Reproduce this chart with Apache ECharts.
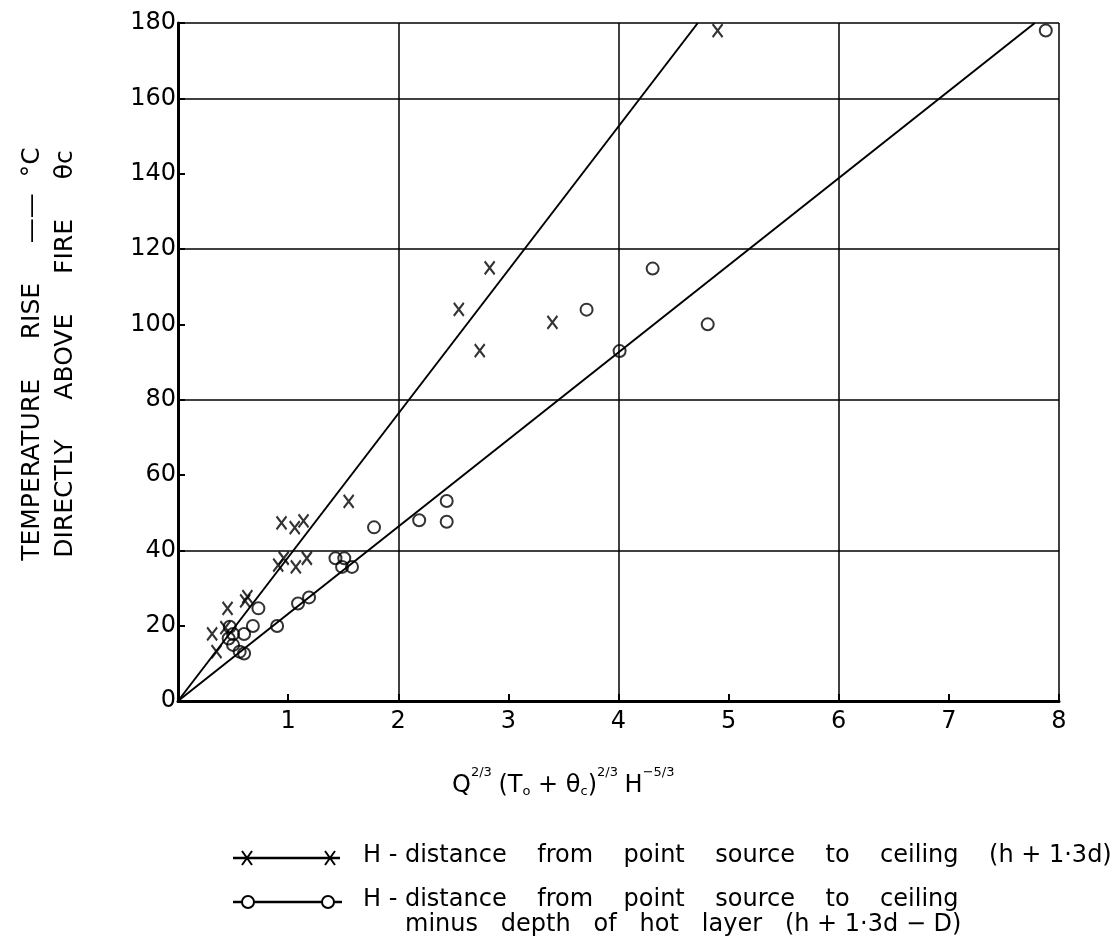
<!DOCTYPE html>
<html>
<head>
<meta charset="utf-8">
<script src="https://cdn.jsdelivr.net/npm/echarts@6/dist/echarts.min.js"></script>
<style>
  html, body { margin: 0; padding: 0; background: #fff; }
  #chart { width: 1115px; height: 944px; }
</style>
</head>
<body>
<div id="chart"></div>
<script>
// H = distance from point source to ceiling (crosses)
var crossX = [4.90, 2.83, 2.55, 2.74, 3.40, 1.55, 0.94, 1.06, 1.14, 0.91, 0.96, 1.07, 1.17, 0.45, 0.61, 0.63, 0.31, 0.43, 0.35];
var crossY = [178, 115, 104, 93, 100.5, 53, 47.3, 46, 47.8, 36.1, 37.9, 35.6, 37.9, 24.6, 26.6, 27.7, 17.8, 19.5, 13.1];
// H minus depth of hot layer (circles)
var circX = [7.88, 4.31, 3.71, 4.81, 4.01, 2.44, 2.44, 2.19, 1.78, 1.43, 1.51, 1.49, 1.58, 1.19, 1.09, 0.90, 0.73, 0.68, 0.60, 0.50, 0.47, 0.46, 0.50, 0.56, 0.60];
var circY = [178, 114.8, 103.9, 100, 92.9, 53.1, 47.6, 48, 46.1, 37.9, 37.9, 35.6, 35.6, 27.5, 25.9, 19.9, 24.6, 19.9, 17.8, 17.8, 19.7, 16.6, 14.9, 13.1, 12.6];
// fitted lines, end points
var crossLine = [[0, 0], [4.72, 180]];
var circLine = [[0, 0], [7.78, 180]];

function pairs(xs, ys) {
  return xs.map(function (x, i) { return [x, ys[i]]; });
}

function seg(x1, y1, x2, y2, w) {
  return { type: 'line', shape: { x1: x1, y1: y1, x2: x2, y2: y2 }, style: { stroke: '#000', lineWidth: w || 2 } };
}

var chart = echarts.init(document.getElementById('chart'));
var font = 'DejaVu Sans';
var crossPath = 'path://M0,0L10,12M10,0L0,12';

var option = {
  backgroundColor: '#fff',
  animation: false,
  grid: { left: 178, top: 23, right: 56, bottom: 243 },
  xAxis: [{
    type: 'value', min: 0, max: 8, interval: 1,
    axisLine: { lineStyle: { color: '#000', width: 3 } },
    axisTick: { inside: true, length: 7, lineStyle: { color: '#000', width: 2 } },
    splitLine: { show: false },
    axisLabel: {
      color: '#000', fontFamily: font, fontSize: 24, margin: 9,
      formatter: function (v) { return v === 0 ? '' : String(v); }
    }
  }, {
    type: 'value', min: 0, max: 8, interval: 2, position: 'top',
    axisLine: { show: true, lineStyle: { color: '#000', width: 2 } },
    axisTick: { show: false }, axisLabel: { show: false },
    splitLine: { show: true, lineStyle: { color: '#000', width: 1.5 } }
  }],
  yAxis: [{
    type: 'value', min: 0, max: 180, interval: 20,
    axisLine: { show: true, lineStyle: { color: '#000', width: 3 } },
    axisTick: { show: true, inside: true, length: 7, lineStyle: { color: '#000', width: 2 } },
    splitLine: { show: false },
    axisLabel: { color: '#000', fontFamily: font, fontSize: 24, margin: 2 },
    name: '  TEMPERATURE     RISE     ——  °C\n  DIRECTLY     ABOVE     FIRE     θc',
    nameLocation: 'middle', nameGap: 96, nameRotate: 90,
    nameTextStyle: { color: '#000', fontFamily: font, fontSize: 25, lineHeight: 33 }
  }, {
    type: 'value', min: 0, max: 180, interval: 40, position: 'right',
    axisLine: { show: true, lineStyle: { color: '#000', width: 2 } },
    axisTick: { show: false }, axisLabel: { show: false },
    splitLine: { show: true, lineStyle: { color: '#000', width: 1.5 } }
  }],
  series: [{
    name: 'cross fit', type: 'line', data: crossLine, symbol: 'none',
    lineStyle: { color: '#000', width: 2 }
  }, {
    name: 'circle fit', type: 'line', data: circLine, symbol: 'none',
    lineStyle: { color: '#000', width: 2 }
  }, {
    name: 'H (h+1.3d)', type: 'scatter', data: pairs(crossX, crossY),
    symbol: crossPath, symbolSize: [10, 13],
    itemStyle: { color: 'none', borderColor: '#000', borderWidth: 2.2 }
  }, {
    name: 'H (h+1.3d-D)', type: 'scatter', data: pairs(circX, circY),
    symbol: 'circle', symbolSize: 12,
    itemStyle: { color: 'none', borderColor: '#000', borderWidth: 2 }
  }],
  graphic: [{
    type: 'text', left: 452, top: 766,
    style: {
      text: '{b|Q}{s|2/3}  {b|(T}{d|o}{b| + θ}{d|c}{b|)}{s|2/3}  {b|H}{s|−5/3}',
      rich: {
        b: { fontFamily: font, fontSize: 24, fill: '#000', verticalAlign: 'bottom', lineHeight: 32 },
        s: { fontFamily: font, fontSize: 13, fill: '#000', verticalAlign: 'top', lineHeight: 32 },
        d: { fontFamily: font, fontSize: 13, fill: '#000', verticalAlign: 'bottom', lineHeight: 28 }
      }
    }
  },
  // legend row 1
  seg(233, 858, 340, 858, 2.5),
  seg(242, 851, 252, 865), seg(252, 851, 242, 865),
  seg(325, 851, 335, 865), seg(335, 851, 325, 865),
  {
    type: 'text', left: 363, top: 844,
    style: { text: 'H - distance    from    point    source    to    ceiling    (h + 1·3d)', fontFamily: font, fontSize: 24, fill: '#000' }
  },
  // legend row 2
  seg(233, 902, 342, 902, 2.5),
  { type: 'circle', shape: { cx: 248, cy: 902, r: 6 }, style: { stroke: '#000', lineWidth: 2, fill: '#fff' } },
  { type: 'circle', shape: { cx: 328, cy: 902, r: 6 }, style: { stroke: '#000', lineWidth: 2, fill: '#fff' } },
  {
    type: 'text', left: 363, top: 888,
    style: { text: 'H - distance    from    point    source    to    ceiling', fontFamily: font, fontSize: 24, fill: '#000' }
  },
  {
    type: 'text', left: 405, top: 913,
    style: { text: 'minus   depth   of   hot   layer   (h + 1·3d − D)', fontFamily: font, fontSize: 24, fill: '#000' }
  }]
};
chart.setOption(option);
</script>
</body>
</html>
